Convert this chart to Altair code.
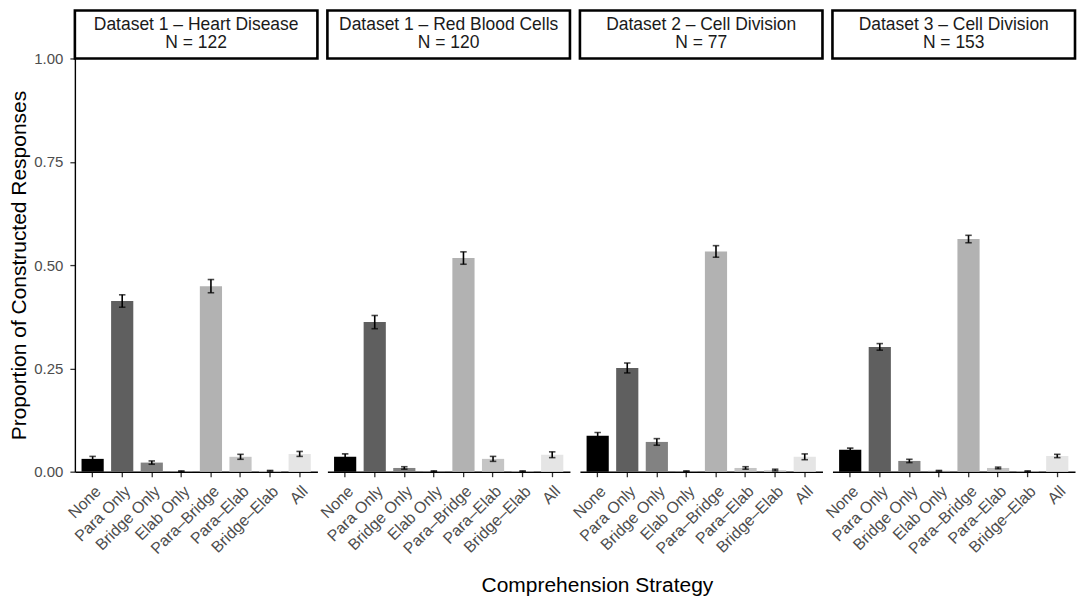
import altair as alt
import pandas as pd

strategies = ["None", "Para Only", "Bridge Only", "Elab Only", "Para–Bridge", "Para–Elab", "Bridge–Elab", "All"]
colors = ["#000000", "#5f5f5f", "#828282", "#9c9c9c", "#b2b2b2", "#c5c5c5", "#d6d6d6", "#e5e5e5"]

datasets = ["Dataset 1 – Heart Disease", "Dataset 1 – Red Blood Cells",
            "Dataset 2 – Cell Division", "Dataset 3 – Cell Division"]
ns = [122, 120, 77, 153]

props_d1 = [0.031, 0.413, 0.022, 0.001, 0.449, 0.036, 0.002, 0.043]
se_d1 = [0.006, 0.015, 0.004, 0.001, 0.016, 0.006, 0.001, 0.006]
props_d2 = [0.036, 0.362, 0.009, 0.001, 0.517, 0.031, 0.001, 0.041]
se_d2 = [0.007, 0.016, 0.003, 0.001, 0.015, 0.006, 0.001, 0.007]
props_d3 = [0.087, 0.251, 0.072, 0.001, 0.533, 0.009, 0.004, 0.036]
se_d3 = [0.008, 0.012, 0.008, 0.001, 0.014, 0.003, 0.002, 0.007]
props_d4 = [0.053, 0.302, 0.026, 0.002, 0.563, 0.009, 0.001, 0.038]
se_d4 = [0.004, 0.008, 0.004, 0.001, 0.009, 0.002, 0.001, 0.004]

all_props = [props_d1, props_d2, props_d3, props_d4]
all_se = [se_d1, se_d2, se_d3, se_d4]

rows = []
for ds, n, pr, se in zip(datasets, ns, all_props, all_se):
    for s, p, e in zip(strategies, pr, se):
        rows.append({"dataset": ds, "strip": f"{ds}\nN = {n}", "strategy": s,
                     "prop": p, "lo": max(p - e, 0), "hi": p + e})
df = pd.DataFrame(rows)

W = 243
H = 414
FONT = "Liberation Sans"

xenc = alt.X("strategy:N", sort=strategies, title=None,
             scale=alt.Scale(paddingInner=0.25, paddingOuter=0.225))
yscale = alt.Scale(domain=[0, 1], nice=False, zero=True)


def make_panel(i, ds):
    if i == 0:
        yaxis = alt.Axis(values=[0, 0.25, 0.5, 0.75, 1.0], format=".2f")
    else:
        yaxis = None
    bars = alt.Chart().mark_bar().encode(
        x=xenc,
        y=alt.Y("prop:Q", scale=yscale, axis=yaxis,
                title="Proportion of Constructed Responses"),
        color=alt.Color("strategy:N", sort=strategies,
                        scale=alt.Scale(domain=strategies, range=colors), legend=None),
    )
    rules = alt.Chart().mark_rule(color="black", strokeWidth=1.6).encode(
        x=xenc, y=alt.Y("lo:Q", scale=yscale), y2="hi:Q")
    caps_hi = alt.Chart().mark_tick(color="black", size=6.5, thickness=1.6).encode(
        x=xenc, y=alt.Y("hi:Q", scale=yscale))
    caps_lo = alt.Chart().mark_tick(color="black", size=6.5, thickness=1.6).encode(
        x=xenc, y=alt.Y("lo:Q", scale=yscale))
    strip_rect = alt.Chart().mark_rect(fill="white", stroke="black", strokeWidth=2.6).encode(
        x=alt.value(0), x2=alt.value(W), y=alt.value(-48), y2=alt.value(0)
    ).transform_filter(alt.datum.strategy == "None")
    strip_text = alt.Chart().mark_text(font=FONT, fontSize=17.5, lineBreak="\n", lineHeight=19,
                                       color="#1a1a1a", baseline="middle").encode(
        x=alt.value(W / 2), y=alt.value(-34), text="strip:N"
    ).transform_filter(alt.datum.strategy == "None")
    return alt.layer(bars, rules, caps_hi, caps_lo, strip_rect, strip_text).transform_filter(
        alt.datum.dataset == ds
    ).properties(width=W, height=H)


panels = [make_panel(i, ds) for i, ds in enumerate(datasets)]

chart = alt.hconcat(*panels, data=df, spacing=10, bounds="flush").properties(
    padding=0,
    title=alt.TitleParams("Comprehension Strategy", orient="bottom", anchor="middle",
                          font=FONT, fontSize=21, fontWeight="normal", color="black",
                          dx=55, offset=18)
).configure_view(stroke=None).configure_axis(
    grid=False, domainColor="black", domainWidth=1.4, tickColor="#333333",
    tickSize=5, tickWidth=1.3, labelColor="#4d4d4d", labelFont=FONT, labelFontSize=15,
    titleFont=FONT, titleFontSize=21, titleFontWeight="normal", titleColor="black",
).configure_axisX(
    labelAngle=-45, labelAlign="right", labelBaseline="top", labelPadding=6, labelFontSize=16
).configure_axisY(
    titlePadding=4, labelPadding=7
)

chart.save("out.html", embed_options={"renderer": "svg", "actions": False})
